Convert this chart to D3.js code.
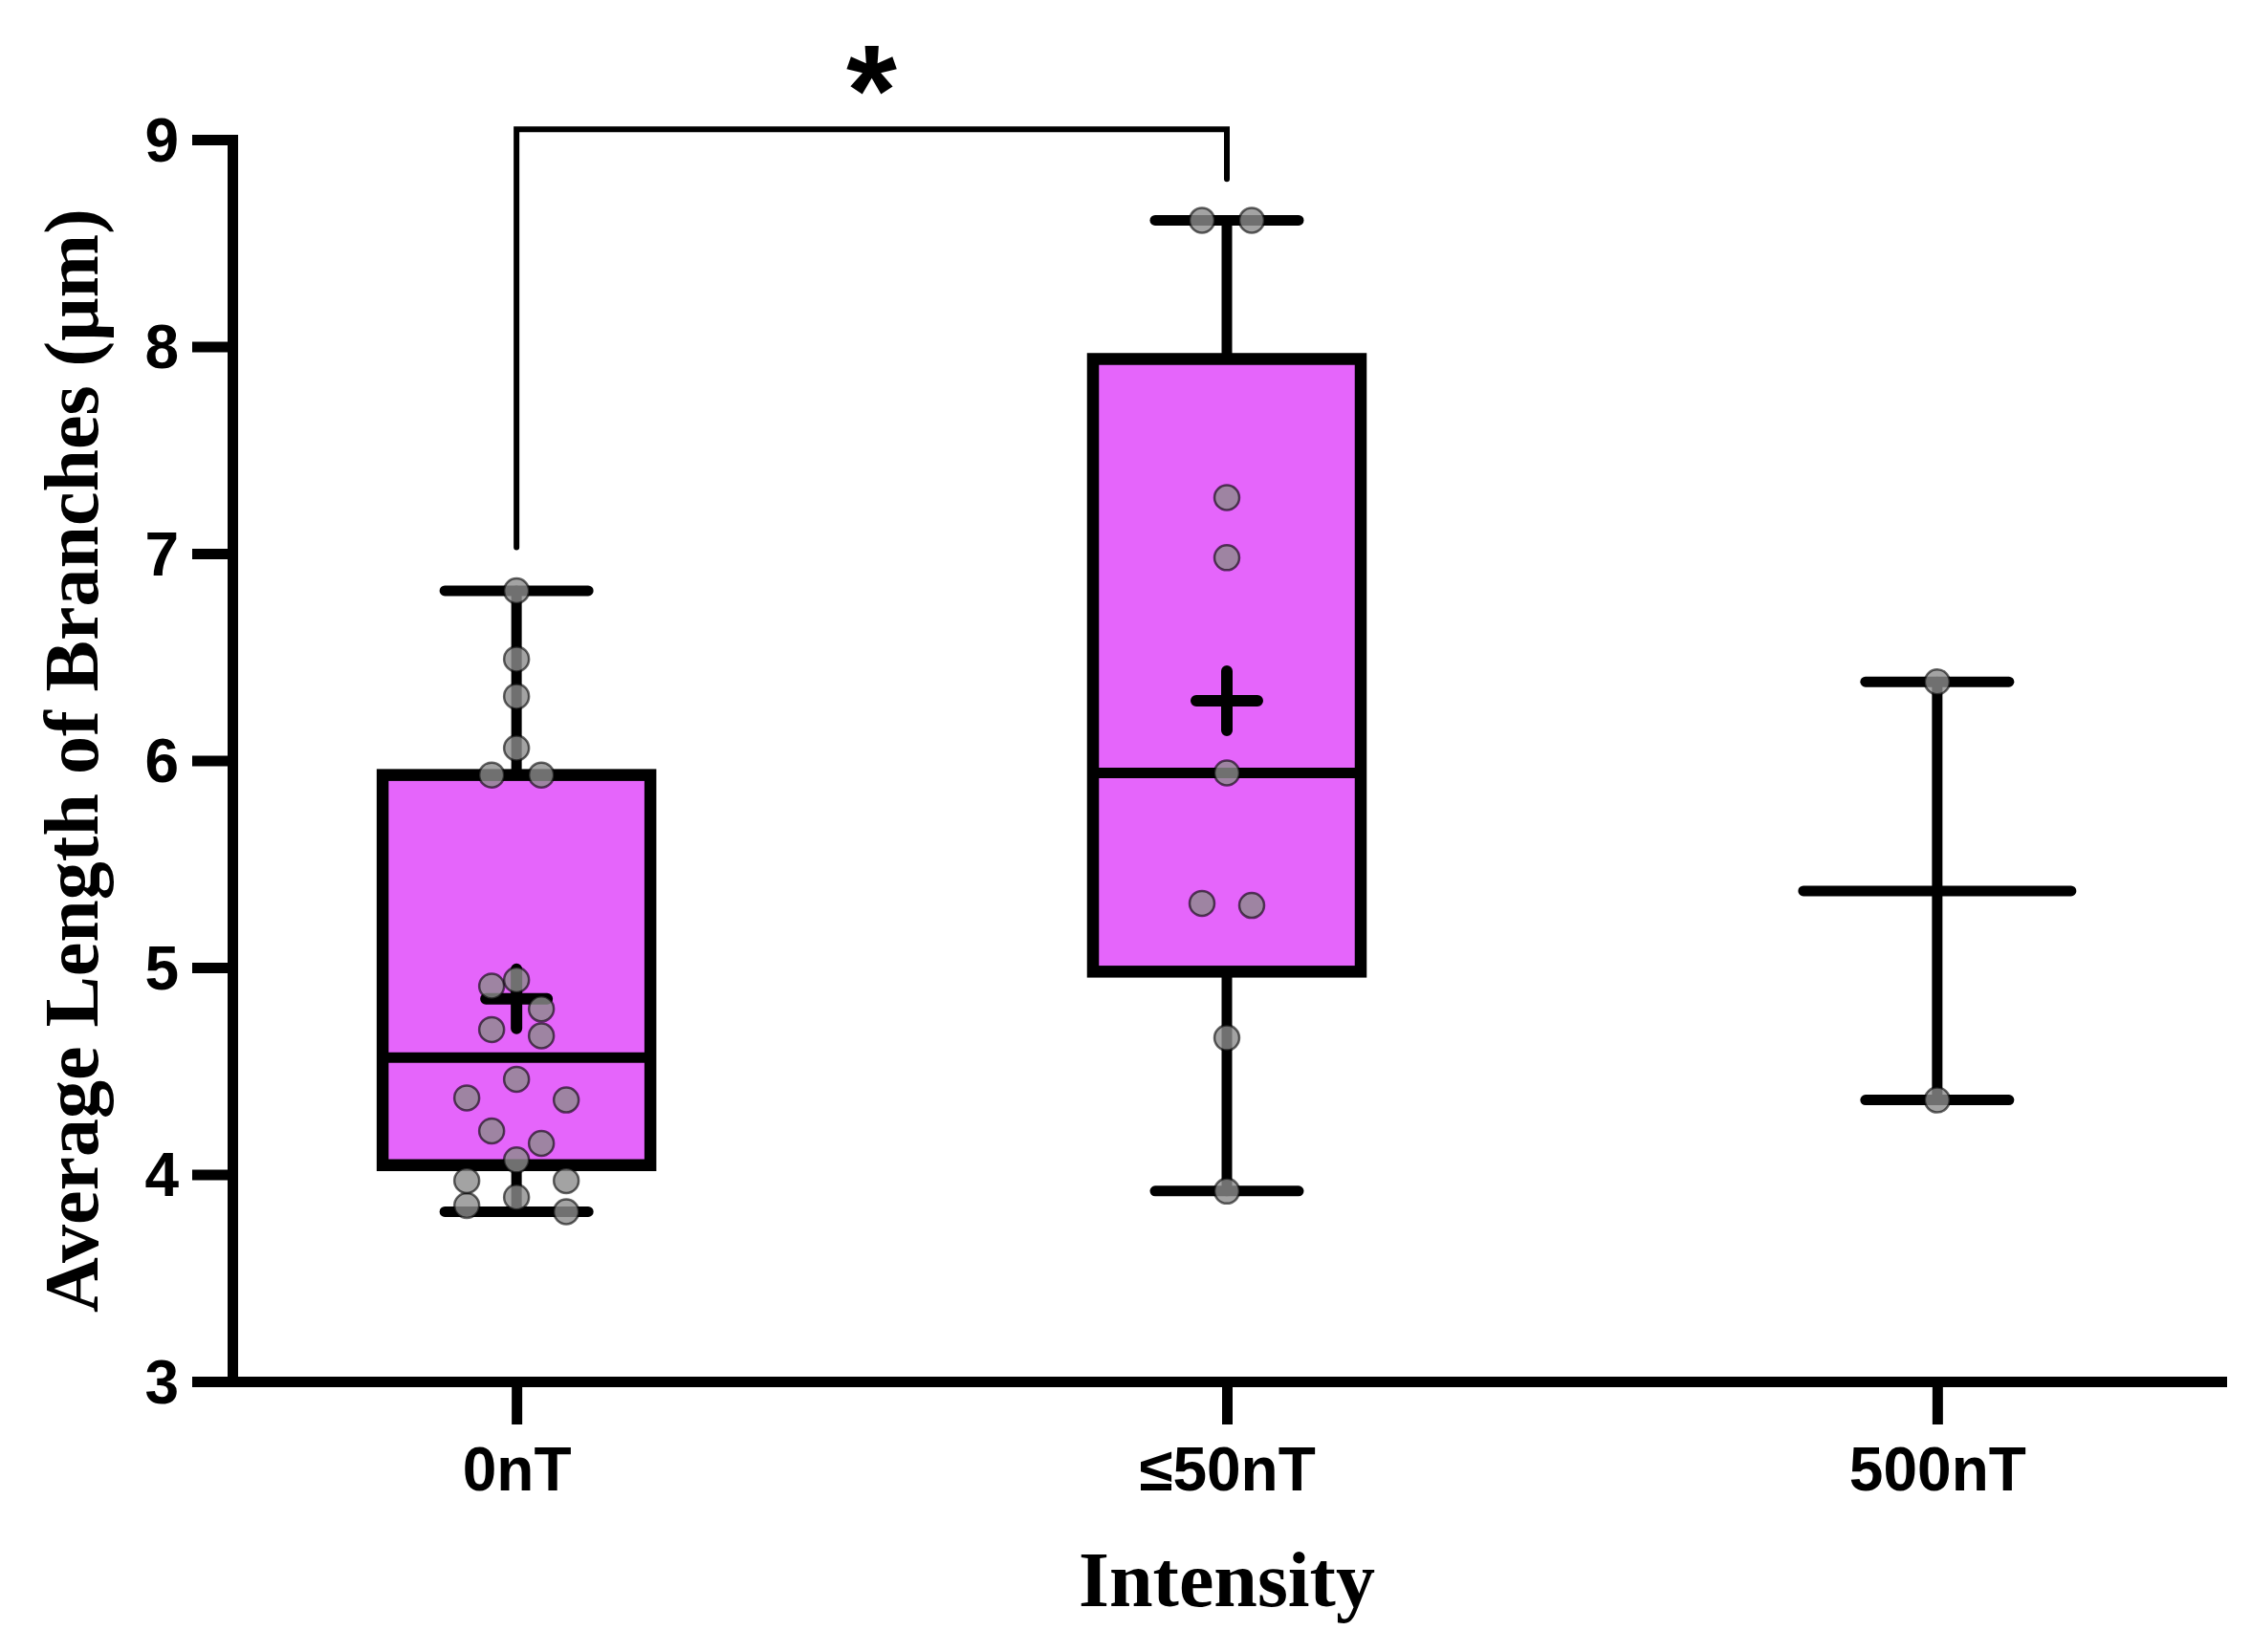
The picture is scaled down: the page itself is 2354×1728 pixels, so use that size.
<!DOCTYPE html>
<html>
<head>
<meta charset="utf-8">
<script src="https://cdn.jsdelivr.net/npm/d3@7/dist/d3.min.js"></script>
<style>
  body { margin: 0; background: #fff; }
  .tick text { font-family: 'Liberation Sans', Arial, Helvetica, sans-serif; font-weight: bold; }
  .title { font-family: 'Liberation Serif', 'Times New Roman', serif; font-weight: bold; }
</style>
</head>
<body>
<svg id="chart"></svg>
<script>
// values
var categories = ['0nT', '\u226450nT', '500nT'];
var values0nT = [6.82, 6.49, 6.31, 6.06, 5.93, 5.93, 4.94, 4.91, 4.80, 4.70, 4.67,
                 4.46, 4.37, 4.36, 4.21, 4.15, 4.07, 3.97, 3.97, 3.89, 3.85, 3.82];
var values50nT = [8.61, 8.61, 7.27, 6.98, 5.94, 5.30, 5.31, 4.66, 3.92];
var values500nT = [6.38, 4.36];
var yTicks = [3, 4, 5, 6, 7, 8, 9];
var bracketLevels = [7.03, 9.05, 8.81]; // left end, top, right end
var sigLabel = '*';

var groups = [values0nT, values50nT, values500nT];

var W = 2354, H = 1728,
  plotLeft = 243, plotRight = 2323, plotTop = 146, plotBottom = 1445,
  r = 13, boxHalf = 140, capHalf = 75;

var svg = d3.select('#chart').attr('width', W).attr('height', H);

var x = d3.scalePoint().domain(categories).range([plotLeft, plotRight]).padding(0.4),
  y = d3.scaleLinear().domain([3, 9]).range([plotBottom, plotTop]);

// quartiles the way Prism does them: (n+1)p
function quartile(sorted, p){
  var n = sorted.length, h = (n + 1) * p - 1, lo = Math.floor(h);
  if (lo < 0) return sorted[0];
  if (lo >= n - 1) return sorted[n - 1];
  return sorted[lo] + (h - lo) * (sorted[lo + 1] - sorted[lo]);
}

// rows of points that sit too close, spread out sideways
function swarm(vals){
  var sorted = vals.slice().sort(d3.ascending), rows = [], row = null, out = [];
  sorted.forEach(function(v){
    if (row && y(row[0]) - y(v) < 2 * r) row.push(v);
    else { row = [v]; rows.push(row); }
  });
  rows.forEach(function(row){
    row.sort(d3.descending);
    var n = row.length;
    var slots = d3.range(n).map(function(i){ return i - (n - 1) / 2; })
      .sort(function(a, b){ return Math.abs(a) - Math.abs(b) || a - b; });
    row.forEach(function(v, i){ out.push({v: v, dx: slots[i] * 4 * r}); });
  });
  return out;
}

// axes
var yAxis = svg.append('g')
  .attr('transform', 'translate(' + plotLeft + ',0)')
  .call(d3.axisLeft(y).tickValues(yTicks).tickFormat(d3.format('d')).tickSize(42).tickSizeOuter(0).tickPadding(14));
var xAxis = svg.append('g')
  .attr('transform', 'translate(0,' + plotBottom + ')')
  .call(d3.axisBottom(x).tickSize(45).tickSizeOuter(0).tickPadding(24));

[yAxis, xAxis].forEach(function(g){
  g.select('.domain').attr('stroke', '#000').attr('stroke-width', 11).attr('stroke-linecap', 'square');
  g.selectAll('.tick line').attr('stroke', '#000').attr('stroke-width', 11);
  g.selectAll('.tick text').attr('fill', '#000').style('font-size', '64px');
});
yAxis.selectAll('.tick text').attr('dy', '0.35em');
xAxis.selectAll('.tick text').attr('dy', '0.71em');

// boxes, whiskers, medians, means
var plot = svg.append('g');
groups.forEach(function(vals, i){
  var cx = x(categories[i]),
    s = vals.slice().sort(d3.ascending),
    lo = s[0], hi = s[s.length - 1],
    med = d3.median(s), mean = d3.mean(s),
    g = plot.append('g').attr('stroke', '#000').attr('stroke-linecap', 'round');

  if (s.length >= 3){
    var q1 = quartile(s, 0.25), q3 = quartile(s, 0.75);
    g.append('line').attr('x1', cx).attr('x2', cx).attr('y1', y(q3)).attr('y2', y(hi)).attr('stroke-width', 11);
    g.append('line').attr('x1', cx).attr('x2', cx).attr('y1', y(q1)).attr('y2', y(lo)).attr('stroke-width', 11);
    g.append('rect')
      .attr('x', cx - boxHalf).attr('width', boxHalf * 2)
      .attr('y', y(q3)).attr('height', y(q1) - y(q3))
      .attr('fill', '#E565FB').attr('stroke-width', 12.5);
    g.append('line').attr('x1', cx - boxHalf).attr('x2', cx + boxHalf)
      .attr('y1', y(med)).attr('y2', y(med)).attr('stroke-width', 11).attr('stroke-linecap', 'butt');
    // mean as a cross
    g.append('path')
      .attr('d', 'M' + (cx - 32) + ',' + y(mean) + 'H' + (cx + 32) + 'M' + cx + ',' + (y(mean) - 31) + 'V' + (y(mean) + 31))
      .attr('stroke-width', 12).attr('fill', 'none');
  } else {
    // too few points for a box: range and median only
    g.append('line').attr('x1', cx).attr('x2', cx).attr('y1', y(hi)).attr('y2', y(lo)).attr('stroke-width', 11);
    g.append('line').attr('x1', cx - boxHalf).attr('x2', cx + boxHalf)
      .attr('y1', y(med)).attr('y2', y(med)).attr('stroke-width', 11);
  }
  [lo, hi].forEach(function(v){
    g.append('line').attr('x1', cx - capHalf).attr('x2', cx + capHalf)
      .attr('y1', y(v)).attr('y2', y(v)).attr('stroke-width', 11);
  });
});

// points on top
groups.forEach(function(vals, i){
  var cx = x(categories[i]);
  plot.append('g').selectAll('circle').data(swarm(vals)).join('circle')
    .attr('cx', function(d){ return cx + d.dx; })
    .attr('cy', function(d){ return y(d.v); })
    .attr('r', r)
    .attr('fill', 'rgb(140,140,140)').attr('fill-opacity', 0.8)
    .attr('stroke', '#000').attr('stroke-opacity', 0.6).attr('stroke-width', 2.5);
});

// significance bracket
var bx0 = x(categories[0]), bx1 = x(categories[1]);
svg.append('path')
  .attr('d', 'M' + bx0 + ',' + y(bracketLevels[0]) + 'V' + y(bracketLevels[1]) + 'H' + bx1 + 'V' + y(bracketLevels[2]))
  .attr('fill', 'none').attr('stroke', '#000').attr('stroke-width', 6).attr('stroke-linecap', 'round');
svg.append('text')
  .attr('x', (bx0 + bx1) / 2).attr('y', y(bracketLevels[1]) + 6)
  .attr('text-anchor', 'middle')
  .style('font-family', "'Liberation Sans', Arial, sans-serif").style('font-weight', 'bold').style('font-size', '136px')
  .text(sigLabel);

// titles
svg.append('text').attr('class', 'title')
  .attr('x', (plotLeft + plotRight) / 2).attr('y', 1680)
  .attr('text-anchor', 'middle').style('font-size', '82px')
  .text('Intensity');
svg.append('text').attr('class', 'title')
  .attr('transform', 'translate(102,' + ((plotTop + plotBottom) / 2) + ') rotate(-90)')
  .attr('text-anchor', 'middle').style('font-size', '80px')
  .text('Average Length of Branches (\u03bcm)');
</script>
</body>
</html>
